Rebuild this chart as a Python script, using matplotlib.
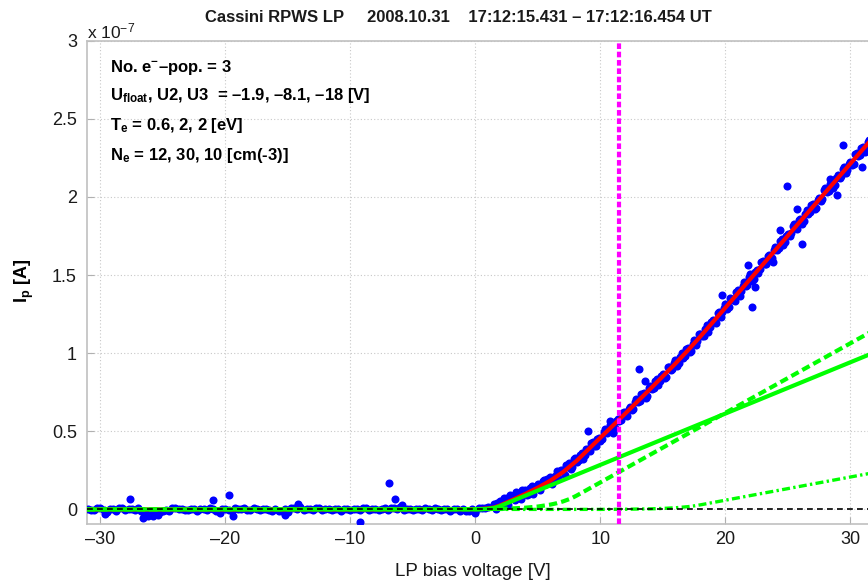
import matplotlib
matplotlib.use("Agg")
import matplotlib.pyplot as plt
from matplotlib.ticker import FuncFormatter

plt.rcParams['font.family'] = ['Liberation Sans', 'DejaVu Sans']
plt.rcParams['mathtext.fontset'] = 'custom'
plt.rcParams['mathtext.rm'] = 'Liberation Sans'
plt.rcParams['mathtext.bf'] = 'Liberation Sans:bold'
plt.rcParams['mathtext.it'] = 'Liberation Sans:italic'

# ---------------- data (currents in units of 1e-7 A) ----------------
bias_flat = [-31.0, -30.5, -30.0, -29.5, -29.0, -28.5, -28.0, -27.5, -27.0, -26.5,
             -26.0, -25.5, -25.0, -24.5, -24.0, -23.5, -23.0, -22.5, -22.0, -21.5,
             -21.0, -20.5, -20.0, -19.5, -19.0, -18.5, -18.0, -17.5, -17.0, -16.5,
             -16.0, -15.5, -15.0, -14.5, -14.0, -13.5, -13.0, -12.5, -12.0, -11.5,
             -11.0, -10.5, -10.0, -9.5, -9.0, -8.5, -8.0, -7.5, -7.0, -6.5,
             -6.0, -5.5, -5.0, -4.5, -4.0, -3.5, -3.0, -2.5, -2.0, -1.5,
             -1.0, -0.5, 0.0, 0.5, 1.0]
current_flat = [0.006, -0.005, 0.008, -0.018, 0.004, 0.007, -0.006, 0.005, 0.008, -0.020,
                -0.025, -0.020, -0.012, -0.008, 0.007, 0.004, -0.005, 0.006, 0.004, -0.006,
                0.005, -0.008, 0.006, -0.012, 0.004, 0.007, -0.005, 0.006, 0.005, -0.006,
                0.004, -0.010, -0.017, 0.008, 0.014, 0.005, -0.006, 0.007, 0.004, -0.005,
                0.006, 0.005, -0.006, 0.004, 0.007, -0.004, 0.006, 0.004, -0.005, 0.008,
                0.014, 0.006, -0.005, 0.004, 0.007, -0.006, 0.005, 0.004, -0.007, 0.006,
                0.004, -0.010, -0.017, 0.008, 0.014]

bias_flat2 = [-30.75, -30.25, -29.75, -29.25, -28.75, -28.25, -27.75, -27.25,
              -26.75, -26.25, -25.75, -25.25, -24.75, -24.25, -23.75, -23.25,
              -22.75, -22.25, -21.75, -21.25, -20.75, -20.25, -19.75, -19.25,
              -18.75, -18.25, -17.75, -17.25, -16.75, -16.25, -15.75, -15.25,
              -14.75, -14.25, -13.75, -13.25, -12.75, -12.25, -11.75, -11.25,
              -10.75, -10.25, -9.75, -9.25, -8.75, -8.25, -7.75, -7.25,
              -6.75, -6.25, -5.75, -5.25, -4.75, -4.25, -3.75, -3.25,
              -2.75, -2.25, -1.75, -1.25, -0.75, -0.25, 0.25, 0.75]
current_flat2 = [-0.006, 0.009, -0.003, 0.005, -0.009, 0.007, 0.002, -0.005,
                 -0.012, -0.018, -0.022, -0.015, -0.006, 0.007, 0.003, -0.005,
                 0.006, -0.008, 0.004, 0.008, -0.010, 0.005, -0.004, 0.007,
                 0.003, -0.006, 0.008, -0.004, 0.005, -0.007, -0.012, 0.004,
                 0.010, 0.006, -0.005, 0.004, 0.007, -0.006, 0.003, 0.005,
                 -0.007, 0.006, 0.004, -0.005, 0.008, 0.003, -0.004, 0.007,
                 0.010, 0.005, -0.006, 0.004, 0.006, -0.005, 0.003, 0.007,
                 -0.006, 0.004, 0.005, -0.008, -0.012, 0.006, 0.010, 0.012]

bias_rise = [1.5, 1.75, 2.0, 2.25, 2.5, 2.75, 3.0, 3.25, 3.5, 3.75,
             4.0, 4.25, 4.5, 4.75, 5.0, 5.25, 5.5, 5.75, 6.0, 6.25,
             6.5, 6.75, 7.0, 7.25, 7.5, 7.75, 8.0, 8.25, 8.5, 8.75,
             9.0, 9.25, 9.5, 9.75, 10.0, 10.25, 10.5, 10.75, 11.0, 11.25,
             11.5, 11.75, 12.0, 12.25, 12.5, 12.75, 13.0, 13.25, 13.5, 13.75,
             14.0, 14.25, 14.5, 14.75, 15.0, 15.25, 15.5, 15.75, 16.0, 16.25,
             16.5, 16.75, 17.0, 17.25, 17.5, 17.75, 18.0, 18.25, 18.5, 18.75,
             19.0, 19.25, 19.5, 19.75, 20.0, 20.25, 20.5, 20.75, 21.0, 21.25,
             21.5, 21.75, 22.0, 22.25, 22.5, 22.75, 23.0, 23.25, 23.5, 23.75,
             24.0, 24.25, 24.5, 24.75, 25.0, 25.25, 25.5, 25.75, 26.0, 26.25,
             26.5, 26.75, 27.0, 27.25, 27.5, 27.75, 28.0, 28.25, 28.5, 28.75,
             29.0, 29.25, 29.5, 29.75, 30.0, 30.25, 30.5, 30.75, 31.0, 31.25,
             31.5]
current_rise = [0.033, 0.043, 0.057, 0.076, 0.073, 0.090, 0.087, 0.112, 0.101, 0.123,
                0.124, 0.100, 0.148, 0.146, 0.164, 0.163, 0.190, 0.194, 0.209, 0.186,
                0.243, 0.244, 0.255, 0.282, 0.300, 0.273, 0.329, 0.316, 0.363, 0.351,
                0.390, 0.425, 0.405, 0.452, 0.440, 0.495, 0.491, 0.542, 0.498, 0.569,
                0.568, 0.616, 0.603, 0.643, 0.634, 0.690, 0.686, 0.737, 0.745, 0.729,
                0.789, 0.777, 0.832, 0.824, 0.864, 0.849, 0.909, 0.901, 0.954, 0.935,
                1.000, 0.985, 1.035, 1.016, 1.082, 1.077, 1.124, 1.111, 1.182, 1.165,
                1.212, 1.195, 1.266, 1.261, 1.316, 1.295, 1.350, 1.333, 1.404, 1.395,
                1.454, 1.437, 1.504, 1.475, 1.534, 1.537, 1.592, 1.571, 1.631, 1.610,
                1.681, 1.672, 1.731, 1.710, 1.765, 1.768, 1.827, 1.798, 1.861, 1.848,
                1.915, 1.902, 1.957, 1.932, 1.995, 1.990, 2.057, 2.040, 2.091, 2.074,
                2.141, 2.136, 2.192, 2.171, 2.226, 2.213, 2.280, 2.271, 2.322, 2.309,
                2.364]

bias_rise2 = [1.625, 1.875, 2.125, 2.375, 2.625, 2.875, 3.125, 3.375, 3.625, 3.875,
              4.125, 4.375, 4.625, 4.875, 5.125, 5.375, 5.625, 5.875, 6.125, 6.375,
              6.625, 6.875, 7.125, 7.375, 7.625, 7.875, 8.125, 8.375, 8.625, 8.875,
              9.125, 9.375, 9.625, 9.875, 10.125, 10.375, 10.625, 10.875, 11.125, 11.375,
              11.625, 11.875, 12.125, 12.375, 12.625, 12.875, 13.125, 13.375, 13.625, 13.875,
              14.125, 14.375, 14.625, 14.875, 15.125, 15.375, 15.625, 15.875, 16.125, 16.375,
              16.625, 16.875, 17.125, 17.375, 17.625, 17.875, 18.125, 18.375, 18.625, 18.875,
              19.125, 19.375, 19.625, 19.875, 20.125, 20.375, 20.625, 20.875, 21.125, 21.375,
              21.625, 21.875, 22.125, 22.375, 22.625, 22.875, 23.125, 23.375, 23.625, 23.875,
              24.125, 24.375, 24.625, 24.875, 25.125, 25.375, 25.625, 25.875, 26.125, 26.375,
              26.625, 26.875, 27.125, 27.375, 27.625, 27.875, 28.125, 28.375, 28.625, 28.875,
              29.125, 29.375, 29.625, 29.875, 30.125, 30.375, 30.625, 30.875, 31.125, 31.375]
current_rise2 = [0.006, 0.043, 0.020, 0.050, 0.031, 0.084, 0.059, 0.092, 0.070, 0.107,
                 0.091, 0.135, 0.101, 0.145, 0.127, 0.182, 0.160, 0.195, 0.163, 0.216,
                 0.203, 0.251, 0.222, 0.272, 0.260, 0.322, 0.306, 0.349, 0.325, 0.384,
                 0.377, 0.431, 0.406, 0.460, 0.451, 0.515, 0.500, 0.544, 0.519, 0.578,
                 0.572, 0.625, 0.601, 0.654, 0.646, 0.710, 0.695, 0.739, 0.715, 0.775,
                 0.769, 0.822, 0.798, 0.852, 0.844, 0.909, 0.895, 0.939, 0.916, 0.977,
                 0.972, 1.028, 1.005, 1.061, 1.055, 1.122, 1.111, 1.158, 1.137, 1.200,
                 1.197, 1.255, 1.234, 1.291, 1.286, 1.353, 1.342, 1.389, 1.368, 1.431,
                 1.428, 1.485, 1.464, 1.521, 1.516, 1.583, 1.572, 1.619, 1.598, 1.661,
                 1.658, 1.715, 1.695, 1.752, 1.747, 1.814, 1.803, 1.850, 1.829, 1.892,
                 1.889, 1.946, 1.925, 1.982, 1.977, 2.044, 2.033, 2.080, 2.059, 2.122,
                 2.119, 2.176, 2.155, 2.212, 2.207, 2.274, 2.264, 2.311, 2.290, 2.353]

bias_outlier = [-27.6, -21.0, -19.7, -6.9, -6.4, -9.2, -26.6, -29.6, -20.4, -19.4,
                -15.2, -14.2, -5.9, -26.2, -25.8, -25.4, 0.0,
                9.03, 13.08, 13.56, 10.76, 11.0, 24.9, 29.4, 26.15, 22.1,
                22.36, 21.8, 23.8, 24.36, 25.7, 28.36, 28.9, 30.9, 19.7]
current_outlier = [0.068, 0.060, 0.090, 0.170, 0.068, -0.080, -0.057, -0.030, -0.025, -0.040,
                   -0.035, 0.035, 0.030, -0.045, -0.040, -0.035, -0.020,
                   0.500, 0.898, 0.823, 0.565, 0.490, 2.070, 2.330, 1.700, 1.295,
                   1.424, 1.563, 1.585, 1.790, 1.920, 2.117, 2.010, 2.190, 1.370]

# model fit (total) and the three electron populations
fit_bias = [-31.1, -20.0, -10.0, -5.0, 0.0, 0.5, 1.0, 1.5, 1.9, 2.5, 3.0, 4.0, 5.0,
            6.0, 7.0, 8.1, 10.0, 12.0, 14.0, 16.0, 17.0, 18.0, 20.0, 24.0, 28.0, 32.0]
fit_current = [0.0, 0.0, 0.0, 0.0002, 0.0023, 0.004, 0.007, 0.013, 0.024, 0.045, 0.063,
               0.100, 0.140, 0.185, 0.239, 0.312, 0.460, 0.615, 0.773, 0.934, 1.019,
               1.108, 1.292, 1.661, 2.030, 2.398]

pop1_bias = [-31.1, 0.0, 0.5, 1.0, 1.5, 1.9, 32.0]
pop1_current = [0.0, 0.0007, 0.0019, 0.0044, 0.0101, 0.0197, 1.008]

pop2_bias = [-31.1, 0.0, 2.0, 3.0, 4.0, 5.0, 6.0, 6.5, 7.0, 7.5, 7.75, 8.1, 32.0]
pop2_current = [0.0, 0.0016, 0.0042, 0.0069, 0.0115, 0.0189, 0.0311, 0.040, 0.0514,
                0.066, 0.0747, 0.089, 1.153]

pop3_bias = [-31.1, 10.0, 12.0, 14.0, 15.0, 16.0, 17.0, 17.5, 18.0, 32.0]
pop3_current = [0.0, 0.0005, 0.0015, 0.004, 0.0066, 0.0109, 0.018, 0.0231, 0.0297, 0.2376]

bias_marker = 11.5
x_ticks = [-30, -20, -10, 0, 10, 20, 30]
y_ticks = [0, 0.5, 1, 1.5, 2, 2.5, 3]

# ---------------- figure ----------------
W, H = 868, 586
fig = plt.figure(figsize=(W / 100, H / 100), dpi=100)
ax = fig.add_axes([86.7 / W, (H - 524) / H, (875.5 - 86.7) / W, (524 - 40.7) / H])

blue = '#0000ff'
green = '#00ff00'
ms = 5.8
for bx, cy in [(bias_flat, current_flat), (bias_flat2, current_flat2),
               (bias_rise, current_rise), (bias_rise2, current_rise2),
               (bias_outlier, current_outlier)]:
    ax.plot(bx, cy, 'o', color=blue, ms=ms, mew=0, zorder=3)
ax.plot(fit_bias, fit_current, '-', color='#ff0000', lw=3, zorder=4)
ax.plot(pop1_bias, pop1_current, '-', color=green, lw=3, zorder=5)
ax.plot(pop2_bias, pop2_current, color=green, lw=3, ls=(0, (2.0, 1.0)), zorder=5)
ax.plot(pop3_bias, pop3_current, color=green, lw=2.4, ls=(0, (2.4, 1.0, 0.7, 1.0)), zorder=5)
ax.axhline(0, color='black', lw=1.2, ls=(0, (3.5, 2.5)), zorder=6)
ax.axvline(bias_marker, color='#ff00ff', lw=3, ls=(0, (1.35, 0.65)), zorder=7)

ax.set_xlim(-31.1, 32)
ax.set_ylim(-0.093, 3.0)
ax.set_xticks(x_ticks)
ax.set_yticks(y_ticks)
dash = lambda v, p: ('%g' % v).replace('-', '\u2013')
ax.xaxis.set_major_formatter(FuncFormatter(dash))
ax.yaxis.set_major_formatter(FuncFormatter(dash))
ax.grid(True, color='#c8c8c8', ls=(0, (1, 2)), lw=0.8)
ax.set_axisbelow(True)
for s in ax.spines.values():
    s.set_color('#c0c0c0')
    s.set_linewidth(1.2)
ax.tick_params(direction='in', length=5, color='#b0b0b0', labelsize=13,
               labelcolor='#1a1a1a', top=False, right=False)
ax.tick_params(axis='y', pad=7)
ax.tick_params(axis='x', pad=5)

fig.text(458.5 / W, 1 - 17 / H,
         'Cassini RPWS LP     2008.10.31    17:12:15.431 \u2013 17:12:16.454 UT',
         ha='center', va='center', fontsize=12, fontweight='bold', color='#1a1a1a')
fig.text(87 / W, 1 - 38 / H, r'x 10$^{\mathregular{-7}}$', fontsize=12.5, color='#1a1a1a',
         va='baseline', ha='left')

ann = ['No. e$^{\\mathbf{-}}$\u2013pop. = 3',
       'U$_{\\mathbf{float}}$, U2, U3  = \u20131.9, \u20138.1, \u201318 [V]',
       'T$_{\\mathbf{e}}$ = 0.6, 2, 2 [eV]',
       'N$_{\\mathbf{e}}$ = 12, 30, 10 [cm(-3)]']
for txt, yb in zip(ann, [72, 100, 130, 160]):
    fig.text(110 / W, 1 - yb / H, txt, fontsize=12, fontweight='bold',
             color='#000000', va='baseline', ha='left')

fig.text(24 / W, 1 - 281 / H, r'I$_{\mathbf{p}}$ [A]', rotation=90, fontsize=13,
         fontweight='bold', ha='center', va='center', color='#000000')
fig.text(473 / W, 1 - 572 / H, 'LP bias voltage [V]', fontsize=13.5, ha='center',
         va='center', color='#1a1a1a')

fig.savefig('out.png', dpi=100)
